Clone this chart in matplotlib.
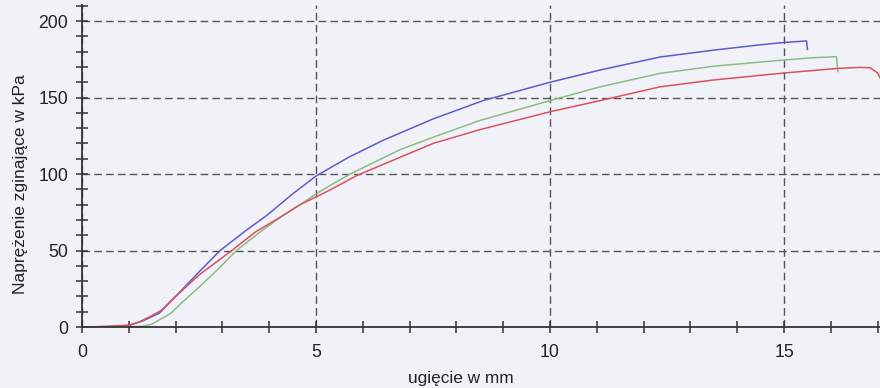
import matplotlib
matplotlib.use("Agg")
import matplotlib.pyplot as plt
from matplotlib.ticker import MultipleLocator

plt.rcParams['font.family'] = ['Liberation Sans', 'DejaVu Sans']

# deflection (mm) and bending stress (kPa) for three samples
blue_x = [0, 0.5, 1.0, 1.3, 1.65, 2.0, 2.5, 2.95, 3.5, 3.95, 4.5, 5.0, 5.7, 6.43,
          7.5, 8.57, 10.0, 11.07, 12.35, 13.5, 14.5, 15.0, 15.48, 15.5]
blue_y = [0, 0.3, 1, 4, 9, 20, 36, 50, 63, 73, 87, 98.7, 111, 122,
          136, 148, 160, 168, 176.5, 181, 184.5, 186, 187, 181.5]

green_x = [0, 1.0, 1.3, 1.5, 1.9, 2.1, 2.5, 2.88, 3.3, 3.8, 4.3, 4.66, 5.0, 5.3,
           5.73, 6.8, 7.5, 8.5, 10.0, 11.07, 12.35, 13.5, 14.98, 15.6, 16.12, 16.15]
green_y = [0, 0, 0.5, 2, 9, 15, 26, 37, 50, 62, 73, 80, 87, 92.5,
           100, 116, 124, 135, 148, 157, 165.8, 170.5, 174.5, 176, 176.7, 167]

red_x = [0, 0.5, 1.0, 1.2, 1.45, 1.7, 2.0, 2.5, 3.2, 3.7, 4.3, 4.66, 5.0, 5.3,
         5.87, 6.8, 7.5, 8.5, 10.0, 11.07, 12.35, 13.5, 14.98, 16.12, 16.6, 16.84,
         17.0, 17.1]
red_y = [0, 0.3, 1.2, 3, 6.7, 11, 20, 34, 50, 62, 73, 80, 85, 89.6,
         99, 111, 120, 129, 140.7, 148, 157, 161.5, 166, 169, 169.7, 169.5,
         166, 160]

x_ticks = [0, 5, 10, 15]
y_ticks = [0, 50, 100, 150, 200]
xlabel = "ugięcie w mm"
ylabel = "Naprężenie zginające w kPa"

bg = '#f1f2f8'
fig = plt.figure(figsize=(8.8, 3.88), dpi=100, facecolor=bg)
ax = fig.add_axes([82/880, 61/388, 798/880, 322/388], facecolor=bg)

ax.plot(blue_x, blue_y, color='#5a5ccf', lw=1.1, zorder=3)
ax.plot(green_x, green_y, color='#8cbb84', lw=1.1, zorder=3)
ax.plot(red_x, red_y, color='#d9525e', lw=1.1, zorder=3)

ax.set_xlim(0, 17.05)
ax.set_ylim(0, 210.5)
ax.set_xticks(x_ticks)
ax.set_yticks(y_ticks)
ax.xaxis.set_minor_locator(MultipleLocator(1))
ax.yaxis.set_minor_locator(MultipleLocator(10))

for s in ['top', 'right']:
    ax.spines[s].set_visible(False)
for s in ['left', 'bottom']:
    ax.spines[s].set_color('#333333')
    ax.spines[s].set_linewidth(1.3)
    ax.spines[s].set_zorder(4)

ax.tick_params(which='both', direction='inout', length=8, width=1.1,
               color='#333333', labelsize=12.7, labelcolor='#222222')
ax.tick_params(axis='y', which='major', pad=6)
ax.tick_params(axis='x', which='major', pad=8)

ax.grid(True, which='major', color='#555555', lw=1.0, linestyle=(0, (5.5, 3)))
ax.set_axisbelow(True)

ax.set_xlabel(xlabel, fontsize=12.4, color='#222222')
ax.set_ylabel(ylabel, fontsize=12.5, color='#222222')
ax.xaxis.set_label_coords(0.475, -0.138)
ax.yaxis.set_label_coords(-0.068, 0.444)

fig.savefig('out.png', dpi=100, facecolor=bg)
